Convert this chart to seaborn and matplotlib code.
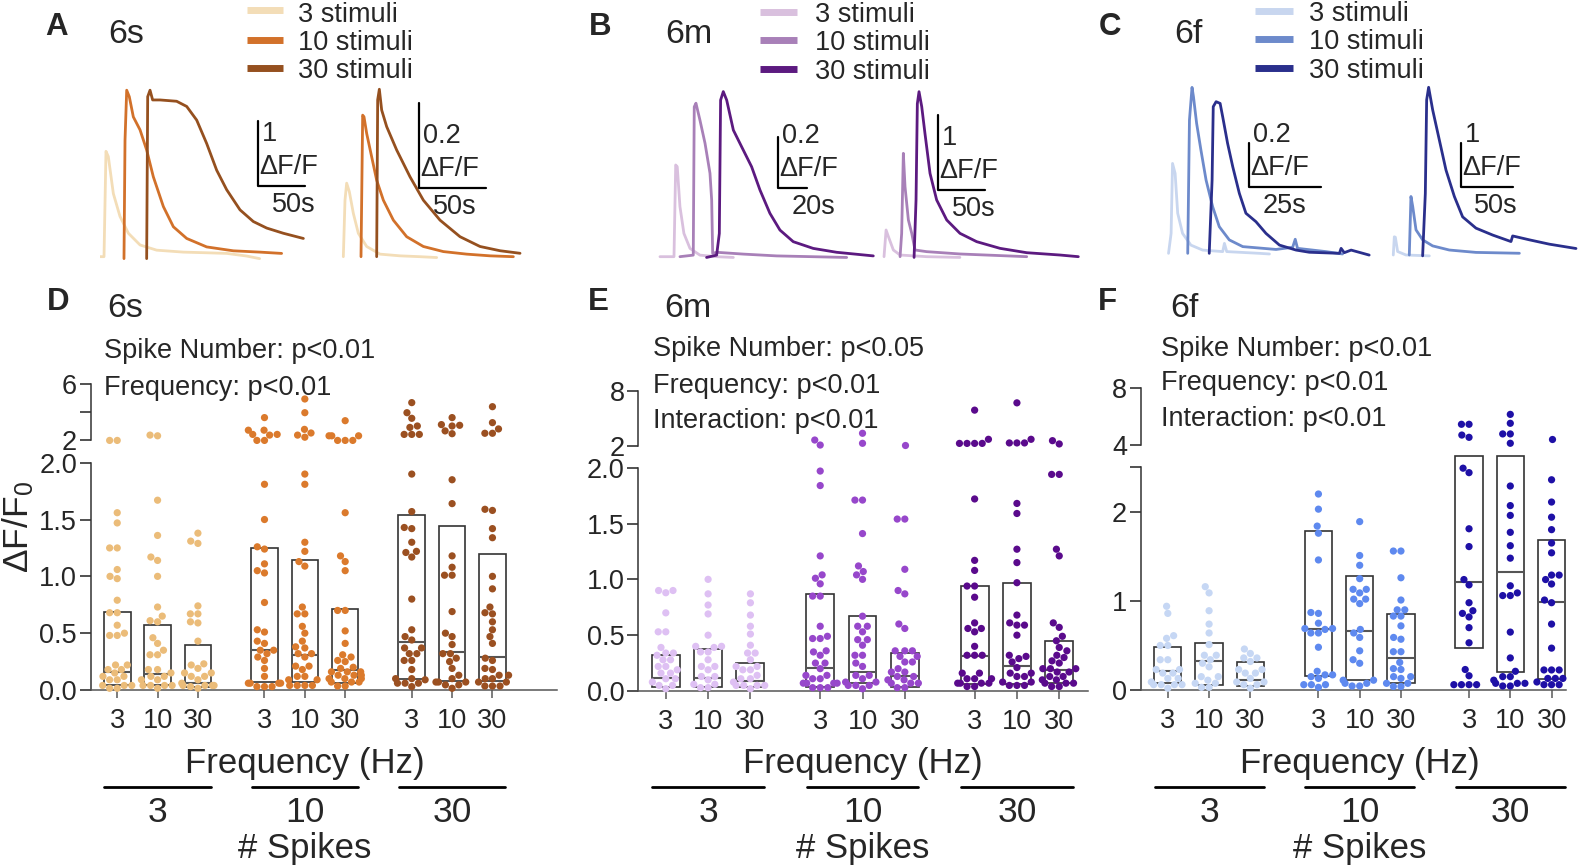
import warnings
import numpy as np
import pandas as pd
import matplotlib.pyplot as plt
import seaborn as sns
from matplotlib.lines import Line2D
from matplotlib.transforms import blended_transform_factory

warnings.filterwarnings('ignore')

# ---------------- example traces (time in s, dF/F) ----------------
# A, 6s: left example
a1_t3 = [0, 4.3, 6.4, 8.9, 14.3, 21.4, 30.4, 42.9, 60.7, 89.3, 114, 136, 157, 171]
a1_y3 = [0, 0, 1.62, 1.54, 0.97, 0.62, 0.36, 0.18, 0.10, 0.07, 0.06, 0.05, 0.01, -0.03]
a1_t10 = [25.7, 26.8, 28.6, 31.4, 35.7, 42.9, 50, 57.1, 67.9, 78.6, 92.9, 114.3, 142.9, 171.4, 194.6]
a1_y10 = [-0.03, 1.79, 2.56, 2.46, 2.15, 1.95, 1.64, 1.23, 0.77, 0.46, 0.28, 0.15, 0.09, 0.07, 0.05]
a1_t30 = [50, 51.1, 53.6, 56.4, 64.3, 82.1, 92.9, 103.6, 114.3, 125, 135.7, 150, 164.3, 178.6, 196.4, 217.9]
a1_y30 = [-0.03, 2.46, 2.56, 2.41, 2.41, 2.39, 2.31, 2.1, 1.74, 1.33, 1.03, 0.72, 0.54, 0.44, 0.36, 0.28]
# A, 6s: right example
a2_t3 = [2.5, 3.75, 5, 7, 10, 13.75, 20, 30, 45, 60, 72.5]
a2_y3 = [0, 0.133, 0.173, 0.153, 0.102, 0.055, 0.024, 0.006, 0.002, 0, -0.002]
a2_t10 = [15.75, 17, 18, 20, 23.75, 27.5, 32.5, 40, 50, 62.5, 77.5, 95, 112.5, 130]
a2_y10 = [0, 0.333, 0.329, 0.29, 0.235, 0.18, 0.133, 0.086, 0.047, 0.024, 0.012, 0.006, 0.002, 0]
a2_t30 = [27.5, 28.25, 29.5, 31.25, 35, 42.5, 52.5, 62.5, 75, 90, 105, 120, 135]
a2_y30 = [0, 0.369, 0.394, 0.345, 0.306, 0.251, 0.188, 0.133, 0.086, 0.047, 0.024, 0.014, 0.008]
# B, 6m
b1_t3 = [0, 9.9, 11.1, 12.2, 14.1, 16.9, 21.2, 28.2, 40, 51.8]
b1_y3 = [0, 0, 0.355, 0.348, 0.194, 0.09, 0.032, 0.006, 0, -0.003]
b1_t10 = [14.1, 23.5, 24.2, 25.4, 28.2, 31.8, 35.3, 36.5, 37.2, 40, 58.8, 82.4, 131.8]
b1_y10 = [0, 0.006, 0.58, 0.594, 0.529, 0.439, 0.323, 0.219, 0.013, 0.017, 0.01, 0.003, -0.003]
b1_t30 = [32.9, 40, 41.9, 42.8, 44.7, 47.1, 51.8, 57.6, 64.7, 70.6, 77.6, 84.7, 94.1, 108.2, 124.7, 150.6]
b1_y30 = [-0.003, 0.006, 0.09, 0.606, 0.639, 0.606, 0.49, 0.426, 0.348, 0.258, 0.168, 0.103, 0.058, 0.032, 0.017, 0.003]
b2_t3 = [0.7, 2.9, 5.4, 10.7, 17.9, 46.4, 82]
b2_y3 = [0, 0.356, 0.267, 0.089, 0.022, 0, -0.01]
b2_t10 = [17.9, 19.6, 21.4, 23.2, 26.8, 30.4, 33.9, 46.4, 82.1, 153.6]
b2_y10 = [0, 0.311, 1.378, 0.933, 0.489, 0.311, 0.089, 0.067, 0.036, 0]
b2_t30 = [32.9, 35, 36.4, 38.2, 41.1, 44.6, 50, 57.1, 67.9, 82.1, 100, 125, 153.6, 189.3, 208.9]
b2_y30 = [-0.01, 0.756, 2.04, 2.2, 2.0, 1.64, 1.11, 0.756, 0.489, 0.311, 0.2, 0.111, 0.053, 0.022, 0]
# C, 6f
c1_t3 = [0.3, 1.2, 1.7, 2.6, 3.5, 5.2, 8.1, 12.2, 19.2, 19.8, 20.6, 32, 35.5]
c1_y3 = [0, 0.092, 0.415, 0.369, 0.185, 0.092, 0.038, 0.015, 0.008, 0.046, 0.008, 0, -0.003]
c1_t10 = [7, 7.6, 8.5, 9, 10.1, 11.6, 13.4, 15.7, 18, 21.5, 26.2, 37.8, 43.6, 44.5, 45.3, 55.2, 61]
c1_y10 = [0, 0.615, 0.766, 0.723, 0.6, 0.477, 0.338, 0.215, 0.123, 0.062, 0.031, 0.018, 0.028, 0.065, 0.023, 0.008, -0.003]
c1_t30 = [14.5, 15.5, 15.9, 16.9, 18.3, 19.2, 20.9, 22.7, 25, 27.3, 30.8, 34.3, 39, 44.8, 49.4, 59.9, 60.5, 61.6, 64, 70.3]
c1_y30 = [0, 0.338, 0.677, 0.7, 0.692, 0.63, 0.508, 0.4, 0.277, 0.185, 0.146, 0.092, 0.038, 0.015, 0.005, 0, 0.023, 0.003, 0.015, -0.008]
c2_t3 = [0.6, 1.6, 2.6, 4.8, 12.9, 35.5]
c2_y3 = [0, 0.42, 0.41, 0.08, 0, -0.02]
c2_t10 = [16.1, 17.7, 19.4, 22.6, 29, 38.7, 54.8, 80.6, 122.6]
c2_y10 = [0, 1.35, 1.12, 0.58, 0.35, 0.21, 0.115, 0.06, 0.04]
c2_t30 = [29, 31.6, 32.9, 34.8, 38.7, 45.2, 51.6, 59.7, 67.7, 80.6, 96.8, 114.5, 116.1, 132.3, 151.6, 177.4]
c2_y30 = [-0.02, 1.42, 3.58, 3.87, 3.35, 2.65, 1.96, 1.35, 0.88, 0.62, 0.46, 0.31, 0.44, 0.35, 0.25, 0.15]

# ---------------- dF/F0 per cell (order: spikes 3,10,30 x freq 3,10,30) ----------------
d_s3_f3 = [1.97, 1.97, 1.56, 1.47, 1.25, 1.25, 1.06, 1.00, 0.98, 0.79, 0.68, 0.68, 0.57, 0.50, 0.48, 0.48,
           0.22, 0.22, 0.18, 0.18, 0.15, 0.12, 0.12, 0.09, 0.09, 0.04, 0.04, 0.04, 0.015, 0.015]
d_s3_f10 = [2.35, 2.3, 1.67, 1.36, 1.17, 1.14, 1.00, 0.73, 0.65, 0.61, 0.60, 0.46, 0.41, 0.35, 0.31, 0.31,
            0.18, 0.18, 0.15, 0.12, 0.12, 0.09, 0.09, 0.04, 0.04, 0.04, 0.04, 0.015]
d_s3_f30 = [1.38, 1.31, 1.29, 0.74, 0.67, 0.67, 0.60, 0.59, 0.43, 0.23, 0.22, 0.19, 0.15, 0.15, 0.12, 0.12,
            0.09, 0.04, 0.04, 0.04, 0.04, 0.015, 0.03, 0.06]
d_s10_f3 = [3.6, 2.7, 2.7, 2.4, 2.35, 2.4, 1.97, 1.97, 1.81, 1.50, 1.26, 1.24, 1.11, 1.05, 1.03, 0.77, 0.53,
            0.51, 0.43, 0.41, 0.35, 0.35, 0.32, 0.29, 0.26, 0.19, 0.12, 0.06, 0.06, 0.06, 0.06, 0.03, 0.03, 0.03]
d_s10_f10 = [4.93, 3.95, 2.76, 2.5, 2.35, 2.2, 1.90, 1.81, 1.30, 1.22, 1.13, 1.09, 0.73, 0.67, 0.67, 0.56, 0.50,
             0.43, 0.38, 0.37, 0.32, 0.32, 0.29, 0.21, 0.21, 0.18, 0.12, 0.12, 0.09, 0.09, 0.04, 0.04, 0.04, 0.04]
d_s10_f30 = [3.38, 2.3, 2.3, 2.3, 1.97, 1.97, 1.97, 1.56, 1.18, 1.13, 1.05, 0.70, 0.70, 0.52, 0.41, 0.31, 0.29,
             0.26, 0.25, 0.20, 0.19, 0.16, 0.16, 0.16, 0.13, 0.13, 0.13, 0.10, 0.10, 0.10, 0.07, 0.07, 0.07,
             0.035, 0.035]
d_s30_f3 = [4.67, 3.95, 3.55, 3.0, 2.9, 2.4, 2.4, 2.4, 1.90, 1.57, 1.42, 1.43, 1.30, 1.22, 1.21, 1.17, 0.80,
            0.53, 0.47, 0.44, 0.37, 0.37, 0.32, 0.32, 0.26, 0.26, 0.18, 0.10, 0.10, 0.09, 0.06, 0.06, 0.06, 0.03]
d_s30_f10 = [3.6, 3.1, 3.05, 3.0, 2.65, 2.45, 1.85, 1.64, 1.18, 1.08, 1.01, 1.01, 0.69, 0.50, 0.47, 0.40, 0.32,
             0.32, 0.28, 0.25, 0.19, 0.13, 0.10, 0.07, 0.07, 0.07, 0.045, 0.045, 0.015]
d_s30_f30 = [4.38, 3.24, 2.79, 2.48, 2.48, 1.58, 1.59, 1.42, 1.34, 1.00, 0.89, 0.73, 0.68, 0.67, 0.60, 0.53,
             0.47, 0.41, 0.28, 0.26, 0.19, 0.18, 0.13, 0.13, 0.10, 0.10, 0.07, 0.07, 0.035, 0.035, 0.035]
d_q1 = [0.045, 0.044, 0.03, 0.07, 0.07, 0.06, 0.10, 0.08, 0.08]
d_med = [0.155, 0.14, 0.06, 0.35, 0.31, 0.18, 0.425, 0.33, 0.29]
d_q3 = [0.69, 0.57, 0.40, 1.25, 1.14, 0.71, 1.54, 1.44, 1.20]

e_s3_f3 = [0.90, 0.88, 0.90, 0.70, 0.53, 0.53, 0.39, 0.34, 0.34, 0.32, 0.28, 0.28, 0.22, 0.22, 0.19, 0.16,
           0.16, 0.11, 0.11, 0.08, 0.05, 0.05, 0.02]
e_s3_f10 = [1.00, 0.87, 0.77, 0.69, 0.50, 0.40, 0.39, 0.40, 0.35, 0.35, 0.28, 0.22, 0.22, 0.19, 0.13, 0.13,
            0.10, 0.06, 0.06, 0.03, 0.03]
e_s3_f30 = [0.87, 0.79, 0.68, 0.58, 0.51, 0.41, 0.34, 0.34, 0.28, 0.22, 0.22, 0.19, 0.19, 0.14, 0.11, 0.11,
            0.08, 0.05, 0.05, 0.05, 0.05, 0.02]
e_s10_f3 = [2.62, 2.07, 1.97, 1.84, 1.21, 1.04, 1.01, 0.96, 0.85, 0.85, 0.58, 0.49, 0.47, 0.47, 0.35, 0.36,
            0.32, 0.25, 0.25, 0.20, 0.14, 0.14, 0.11, 0.11, 0.07, 0.07, 0.07, 0.07, 0.03, 0.03, 0.03]
e_s10_f10 = [3.36, 2.26, 1.71, 1.71, 1.41, 1.12, 1.07, 1.04, 1.00, 0.67, 0.58, 0.58, 0.53, 0.46, 0.46, 0.41,
             0.32, 0.32, 0.25, 0.22, 0.14, 0.14, 0.11, 0.08, 0.08, 0.05, 0.05, 0.05, 0.02]
e_s10_f30 = [2.02, 1.54, 1.54, 1.09, 0.90, 0.87, 0.60, 0.56, 0.36, 0.36, 0.36, 0.31, 0.31, 0.26, 0.26, 0.20,
             0.17, 0.17, 0.13, 0.13, 0.10, 0.10, 0.07, 0.07, 0.07, 0.03, 0.03]
e_s30_f3 = [5.9, 2.7, 2.25, 2.25, 2.25, 2.25, 1.72, 1.17, 1.08, 0.94, 0.94, 0.84, 0.61, 0.56, 0.56, 0.53,
            0.40, 0.32, 0.32, 0.32, 0.16, 0.16, 0.11, 0.11, 0.11, 0.07, 0.07, 0.07, 0.07, 0.04, 0.04]
e_s30_f10 = [6.7, 2.7, 2.3, 2.3, 2.3, 1.68, 1.59, 1.27, 1.15, 0.97, 0.68, 0.61, 0.59, 0.59, 0.50, 0.32, 0.31,
             0.29, 0.26, 0.21, 0.16, 0.16, 0.13, 0.13, 0.08, 0.08, 0.05, 0.05, 0.05]
e_s30_f30 = [2.55, 2.19, 1.94, 1.94, 1.27, 1.21, 0.61, 0.57, 0.49, 0.45, 0.39, 0.36, 0.32, 0.30, 0.27, 0.25,
             0.20, 0.20, 0.20, 0.17, 0.17, 0.13, 0.13, 0.10, 0.10, 0.07, 0.07, 0.07, 0.04, 0.04]
e_q1 = [0.033, 0.033, 0.04, 0.04, 0.07, 0.04, 0.06, 0.06, 0.07]
e_med = [0.12, 0.12, 0.09, 0.21, 0.17, 0.13, 0.31, 0.22, 0.19]
e_q3 = [0.32, 0.38, 0.25, 0.87, 0.67, 0.34, 0.94, 0.97, 0.45]

f_s3_f3 = [0.94, 0.86, 0.61, 0.58, 0.50, 0.50, 0.34, 0.34, 0.23, 0.23, 0.19, 0.19, 0.13, 0.13, 0.09, 0.06,
           0.06, 0.06, 0.06, 0.02]
f_s3_f10 = [1.16, 1.09, 0.89, 0.74, 0.64, 0.51, 0.39, 0.39, 0.34, 0.30, 0.26, 0.15, 0.15, 0.11, 0.075, 0.075,
            0.03, 0.03]
f_s3_f30 = [0.46, 0.41, 0.36, 0.36, 0.32, 0.23, 0.23, 0.19, 0.19, 0.13, 0.09, 0.09, 0.06, 0.06, 0.02]
f_s10_f3 = [2.20, 2.03, 1.84, 1.76, 1.46, 0.87, 0.86, 0.75, 0.69, 0.69, 0.68, 0.64, 0.64, 0.48, 0.21, 0.17,
            0.17, 0.15, 0.13, 0.06, 0.06, 0.06, 0.03]
f_s10_f10 = [1.89, 1.51, 1.40, 1.25, 1.13, 1.13, 1.09, 1.02, 1.02, 0.97, 0.68, 0.64, 0.59, 0.44, 0.34, 0.30,
             0.11, 0.11, 0.075, 0.075, 0.045, 0.045]
f_s10_f30 = [1.56, 1.56, 1.26, 1.01, 0.90, 0.90, 0.83, 0.83, 0.72, 0.59, 0.57, 0.43, 0.43, 0.31, 0.24, 0.23,
             0.15, 0.15, 0.13, 0.075, 0.075, 0.04, 0.04]
f_s30_f3 = [5.46, 5.46, 4.7, 4.54, 2.49, 2.44, 1.81, 1.61, 1.24, 1.18, 0.98, 0.89, 0.86, 0.82, 0.70, 0.53,
            0.23, 0.16, 0.06, 0.06, 0.06, 0.06]
f_s30_f10 = [6.16, 5.53, 4.78, 4.78, 4.12, 2.29, 2.07, 1.96, 1.77, 1.62, 1.48, 1.17, 1.09, 1.06, 1.06, 0.65,
             0.36, 0.21, 0.15, 0.15, 0.11, 0.075, 0.075, 0.075, 0.045, 0.045]
f_s30_f30 = [4.4, 2.36, 2.11, 1.94, 1.80, 1.65, 1.54, 1.29, 1.29, 1.24, 1.19, 1.01, 0.98, 0.74, 0.47, 0.225,
             0.225, 0.225, 0.13, 0.13, 0.13, 0.09, 0.06, 0.06, 0.06]
f_q1 = [0.075, 0.056, 0.045, 0.16, 0.11, 0.08, 0.47, 0.20, 0.12]
f_med = [0.21, 0.33, 0.11, 0.69, 0.66, 0.36, 1.21, 1.32, 0.99]
f_q3 = [0.48, 0.525, 0.31, 1.78, 1.28, 0.85, 2.63, 2.63, 1.68]

freq_labels = ['3', '10', '30'] * 3
spike_groups = ['3', '3', '3', '10', '10', '10', '30', '30', '30']
group_names = ['3', '10', '30']
group_centers = [1, 4.65, 8.3]
pos = [0, 1, 2, 3.65, 4.65, 5.65, 7.3, 8.3, 9.3]

# style
sns.set_style('ticks')
plt.rcParams['font.family'] = ['Liberation Sans', 'DejaVu Sans']
plt.rcParams['mathtext.fontset'] = 'custom'
plt.rcParams['mathtext.rm'] = 'Liberation Sans'
plt.rcParams['mathtext.it'] = 'Liberation Sans:italic'
plt.rcParams['axes.linewidth'] = 1.1

W, H = 1596, 866
fig = plt.figure(figsize=(W / 100, H / 100), dpi=100)


def add_ax(l, t, r, b):
    return fig.add_axes([l / W, 1 - b / H, (r - l) / W, (b - t) / H])


def fy(y):
    return 1 - y / H


def ftext(x, y, s, **kw):
    fig.text(x / W, fy(y), s, **kw)


def trace_panel(box, xlim, ylim, series, colors, corner, dy, dx, ylab, xlab):
    ax = add_ax(*box)
    for (t, y), c in zip(series, colors):
        sns.lineplot(x=t, y=y, color=c, linewidth=2, sort=False, estimator=None, ax=ax)
    ax.set_xlim(xlim)
    ax.set_ylim(ylim)
    ax.axis('off')
    cx, cy = corner
    ax.plot([cx, cx, cx + dx], [cy + dy, cy, cy], color='black', lw=1.6, clip_on=False)
    kw = dict(xycoords='data', textcoords='offset pixels', fontsize=19.5, va='center')
    ax.annotate(ylab, (cx, cy), xytext=(4, 52), ha='left', **kw)
    ax.annotate('ΔF/F', (cx, cy), xytext=(1, 19), ha='left', **kw)
    ax.annotate(xlab, (cx, cy), xytext=(35, -19), ha='center', **kw)


def legend_block(x0, x1, xt, ys, ybs, colors):
    for y, yb, c, n in zip(ys, ybs, colors, ['3', '10', '30']):
        fig.add_artist(Line2D([x0 / W, x1 / W], [fy(y), fy(y)], color=c, lw=5,
                              transform=fig.transFigure, solid_capstyle='butt'))
        ftext(xt, yb, f'{n} stimuli', fontsize=19.5, va='baseline', ha='left')


def scatter_panel(lo_box, up_box, lo_ylim, lo_ticks, lo_labels, up_ylim, up_ticks, up_labels,
                  split, xmax, groups, q1, med, q3, pal):
    rows = []
    for p, vals, g in zip(pos, groups, spike_groups):
        for v in vals:
            rows.append((p, v, g))
    df = pd.DataFrame(rows, columns=['pos', 'val', 'spikes'])
    ax_lo = add_ax(*lo_box)
    ax_up = add_ax(*up_box)
    for ax, part in ((ax_lo, df[df['val'] < split]), (ax_up, df[df['val'] >= split])):
        sns.swarmplot(data=part, x='pos', y='val', hue='spikes', palette=pal, native_scale=True,
                      orient='x', size=5.2, linewidth=0, legend=False, ax=ax, zorder=3)
        for coll in ax.collections:
            coll.set_clip_on(False)
        ax.set_xlim(-0.65, xmax)
        ax.set_xlabel('')
        ax.set_ylabel('')
        sns.despine(ax=ax)
    # boxes (25-75 %) and medians
    heights = [b - a for a, b in zip(q1, q3)]
    ax_lo.bar(pos, heights, bottom=q1, width=0.66, fill=False, edgecolor='#333333',
              linewidth=1.2, zorder=1, clip_on=False)
    ax_lo.hlines(med, [p - 0.33 for p in pos], [p + 0.33 for p in pos], color='#555555',
                 lw=1.5, zorder=2)
    ax_lo.set_ylim(lo_ylim)
    ax_lo.spines['left'].set_bounds(lo_ylim[0], lo_ticks[-1])
    ax_lo.set_yticks(lo_ticks)
    ax_lo.set_yticklabels(lo_labels)
    ax_lo.set_xticks(pos)
    ax_lo.set_xticklabels(freq_labels)
    ax_lo.tick_params(axis='x', length=6, width=1.2, color='#666666', pad=7, labelsize=19.5)
    ax_lo.tick_params(axis='y', length=8, width=1.2, color='#333333', pad=2, labelsize=19.5)
    ax_lo.spines['left'].set_color('#333333')
    ax_lo.spines['bottom'].set_color('#555555')

    ax_up.set_ylim(up_ylim)
    ax_up.spines['bottom'].set_visible(False)
    ax_up.spines['left'].set_bounds(up_ticks[0], up_ticks[-1])
    ax_up.spines['left'].set_color('#333333')
    ax_up.set_xticks([])
    ax_up.set_yticks(up_ticks)
    ax_up.set_yticklabels(up_labels)
    ax_up.tick_params(axis='y', length=8, width=1.2, color='#333333', pad=2, labelsize=19.5)

    trans = blended_transform_factory(ax_lo.transData, fig.transFigure)
    ax_lo.text(4.65, fy(773), 'Frequency (Hz)', transform=trans, ha='center', va='baseline', fontsize=25)
    for c, n in zip(group_centers, group_names):
        ax_lo.plot([c - 1.32, c + 1.32], [fy(787), fy(787)], transform=trans, color='black',
                   lw=2, clip_on=False)
        ax_lo.text(c, fy(822.5), n, transform=trans, ha='center', va='baseline', fontsize=25.5)
    ax_lo.text(4.65, fy(858), '# Spikes', transform=trans, ha='center', va='baseline', fontsize=25)
    return ax_lo, ax_up


# ---------------- top row: traces ----------------
tr_6s = ['#F3DDB7', '#D2712A', '#95501F']
tr_6m = ['#D9C0DE', '#A880B8', '#5C1A80']
tr_6f = ['#C8D6EF', '#6D8ACB', '#2A2F8C']

trace_panel((100, 85, 310, 262), (0, 225), (-0.082, 2.64),
            [(a1_t3, a1_y3), (a1_t10, a1_y10), (a1_t30, a1_y30)], tr_6s,
            (169.6, 1.08), 1.0, 50, '1', '50s')
trace_panel((340, 85, 521.7, 262), (0, 136.25), (-0.0125, 0.404),
            [(a2_t3, a2_y3), (a2_t10, a2_y10), (a2_t30, a2_y30)], tr_6s,
            (59.5, 0.161), 0.2, 50, '0.2', '50s')
trace_panel((658.3, 85, 875, 262), (-1.18, 151.8), (-0.0206, 0.6645),
            [(b1_t3, b1_y3), (b1_t10, b1_y10), (b1_t30, b1_y30)], tr_6m,
            (83.5, 0.265), 0.2, 20, '0.2', '20s')
trace_panel((881.7, 85, 1080, 262), (-1.79, 210.7), (-0.071, 2.289),
            [(b2_t3, b2_y3), (b2_t10, b2_y10), (b2_t30, b2_y30)], tr_6m,
            (58.9, 0.889), 1.0, 50, '1', '50s')
trace_panel((1166, 85, 1371, 262), (-0.58, 70.93), (-0.04, 0.777),
            [(c1_t3, c1_y3), (c1_t10, c1_y10), (c1_t30, c1_y30)], tr_6f,
            (28.5, 0.308), 0.2, 25, '0.2', '25s')
trace_panel((1391, 85, 1579.3, 262), (-1.61, 180.6), (-0.1615, 3.923),
            [(c2_t3, c2_y3), (c2_t10, c2_y10), (c2_t30, c2_y30)], tr_6f,
            (66.1, 1.577), 1.0, 50, '1', '50s')

legend_block(247, 283, 298.3, [10.3, 40, 68.3], [21.7, 50, 78.3], tr_6s)
legend_block(760, 797, 815, [11.7, 40, 69], [21.7, 50, 79], tr_6m)
legend_block(1255, 1293, 1309.3, [10.7, 39.3, 68.3], [21, 49.3, 78.3], tr_6f)

for letter, x, y in (('A', 45, 35), ('B', 589.3, 35), ('C', 1098.7, 35),
                     ('D', 46.7, 310), ('E', 588.3, 310), ('F', 1098.3, 310)):
    ftext(x, y, letter, fontsize=22.5, fontweight='bold', va='baseline', ha='left')
for name, x, y in (('6s', 108.3, 43.3), ('6m', 665, 42.7), ('6f', 1174.3, 42.7),
                   ('6s', 107.3, 317.3), ('6m', 664, 317.3), ('6f', 1170, 317.3)):
    ftext(x, y, name, fontsize=24.5, va='baseline', ha='left')

# ---------------- bottom row: dF/F0 summary ----------------
lo_ticks_m = [0, 0.5, 1.0, 1.5, 2.0]
lo_labels_m = ['0.0', '0.5', '1.0', '1.5', '2.0']

scatter_panel((91, 462.7, 557, 690), (91, 384, 557, 442.8),
              (0, 2.0), lo_ticks_m, lo_labels_m, (1.8, 6), [2, 4, 6], ['2', '', '6'],
              1.95, 10.9,
              [d_s3_f3, d_s3_f10, d_s3_f30, d_s10_f3, d_s10_f10, d_s10_f30, d_s30_f3, d_s30_f10, d_s30_f30],
              d_q1, d_med, d_q3, {'3': '#EBBC79', '10': '#DB7A2C', '30': '#9B5021'})
scatter_panel((638.3, 467.7, 1088, 691), (638.3, 391, 1088, 447.5),
              (0, 2.0), lo_ticks_m, lo_labels_m, (1.8, 8), [2, 8], ['2', '8'],
              2.0, 9.98,
              [e_s3_f3, e_s3_f10, e_s3_f30, e_s10_f3, e_s10_f10, e_s10_f30, e_s30_f3, e_s30_f10, e_s30_f30],
              e_q1, e_med, e_q3, {'3': '#DEC0F3', '10': '#9747CB', '30': '#5A0A8C'})
scatter_panel((1141, 467.3, 1566, 690), (1141, 388.3, 1566, 447.1),
              (0, 2.5), [0, 1, 2, 2.5], ['0', '1', '2', ''], (3.85, 8), [4, 8], ['4', '8'],
              3.0, 9.65,
              [f_s3_f3, f_s3_f10, f_s3_f30, f_s10_f3, f_s10_f10, f_s10_f30, f_s30_f3, f_s30_f10, f_s30_f30],
              f_q1, f_med, f_q3, {'3': '#C6D7F4', '10': '#5E89EF', '30': '#1E10A6'})

ftext(18, 527, 'ΔF/F$_0$', rotation=90, fontsize=25.5, ha='center', va='center')

for x, y, s in ((104, 358.3, 'Spike Number: p<0.01'), (104, 395, 'Frequency: p<0.01'),
                (652.7, 356, 'Spike Number: p<0.05'), (652.7, 393.3, 'Frequency: p<0.01'),
                (652.7, 427.7, 'Interaction: p<0.01'),
                (1160.7, 356, 'Spike Number: p<0.01'), (1160.7, 390, 'Frequency: p<0.01'),
                (1160.7, 425.7, 'Interaction: p<0.01')):
    ftext(x, y, s, fontsize=19.5, va='baseline', ha='left')

fig.savefig('out.png', dpi=100)
